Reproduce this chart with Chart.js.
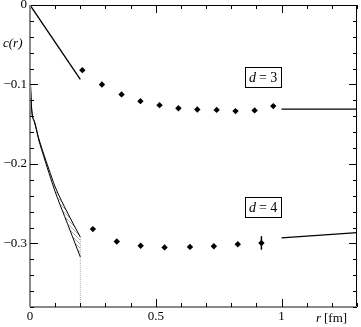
<!DOCTYPE html>
<html>
<head>
<meta charset="utf-8">
<script src="https://cdn.jsdelivr.net/npm/chart.js@4/dist/chart.umd.min.js"></script>
<style>
    html, body { margin: 0; padding: 0; background: #fff; }
    #wrap { width: 361px; height: 327px; position: relative; }
</style>
</head>
<body>
<div id="wrap"><canvas id="myChart"></canvas></div>
<script>
// lattice data, d = 3
const rD3 = [0.208, 0.286, 0.364, 0.439, 0.515, 0.590, 0.665, 0.742, 0.817, 0.893, 0.967];
const cD3 = [-0.082, -0.100, -0.1125, -0.121, -0.126, -0.130, -0.1314, -0.132, -0.1335, -0.1326, -0.1272];
// lattice data, d = 4
const rD4 = [0.250, 0.345, 0.440, 0.535, 0.636, 0.731, 0.826, 0.920];
const cD4 = [-0.282, -0.2976, -0.303, -0.305, -0.3044, -0.3035, -0.301, -0.2994];
const errD4 = [0, 0, 0, 0, 0, 0, 0, 0.0085];

// short distance lines / band
const rShort3 = [0, 0.2];
const cShort3 = [0, -0.0935];
const rLong3 = [1, 1.3];
const cLong3 = [-0.131, -0.131];
const rLong4 = [1, 1.3];
const cLong4 = [-0.293, -0.2863];
const rBand = [0, 0.002, 0.016, 0.035, 0.055, 0.075, 0.099, 0.150, 0.200];
const cBandUp = [0, -0.100, -0.145, -0.168, -0.188, -0.2065, -0.228, -0.262, -0.292];
const cBandLo = [0, -0.100, -0.146, -0.170, -0.191, -0.211, -0.234, -0.276, -0.317];

const xTicks = [0, 0.5, 1];
const xTickLabels = ['0', '0.5', '1'];
const yTicks = [0, -0.1, -0.2, -0.3];
const yTickLabels = ['0', '\u22120.1', '\u22120.2', '\u22120.3'];

const pts = (xs, ys) => xs.map((x, i) => ({x: x, y: ys[i]}));

const hatch = () => {
    const c = document.createElement('canvas');
    c.width = 4; c.height = 4;
    const g = c.getContext('2d');
    g.strokeStyle = '#777';
    g.lineWidth = 0.6;
    g.beginPath();
    g.moveTo(0, 0); g.lineTo(4, 4);
    g.moveTo(-1, 3); g.lineTo(1, 5);
    g.moveTo(3, -1); g.lineTo(5, 1);
    g.stroke();
    return g.createPattern(c, 'repeat');
};

const serif = '"Liberation Serif", "DejaVu Serif", serif';

const decor = {
    id: 'decor',
    afterDraw(chart) {
        const ctx = chart.ctx;
        const a = chart.chartArea;
        const xs = chart.scales.x, ys = chart.scales.y;
        ctx.save();
        // frame
        ctx.strokeStyle = '#000';
        ctx.lineWidth = 1;
        ctx.beginPath();
        ctx.moveTo(a.left, a.top + 0.5); ctx.lineTo(a.right, a.top + 0.5);
        ctx.moveTo(a.right - 0.5, a.top); ctx.lineTo(a.right - 0.5, a.bottom);
        ctx.stroke();
        ctx.strokeStyle = '#888';
        ctx.lineWidth = 2;
        ctx.beginPath();
        ctx.moveTo(a.left, a.top); ctx.lineTo(a.left, a.bottom);
        ctx.moveTo(a.left, a.bottom); ctx.lineTo(a.right, a.bottom);
        ctx.stroke();
        // ticks
        ctx.strokeStyle = '#000';
        ctx.lineWidth = 1;
        ctx.beginPath();
        for (let k = 1; k <= 13; k++) {
            const px = Math.round(xs.getPixelForValue(k / 10)) + 0.5;
            const len = (k % 5 === 0) ? 8 : 4;
            ctx.moveTo(px, a.bottom); ctx.lineTo(px, a.bottom - len);
            ctx.moveTo(px, a.top); ctx.lineTo(px, a.top + len);
        }
        for (let k = 1; k <= 19; k++) {
            const py = Math.round(ys.getPixelForValue(-k / 50)) + 0.5;
            const len = (k % 5 === 0) ? 8 : 4;
            ctx.moveTo(a.left, py); ctx.lineTo(a.left + len, py);
            ctx.moveTo(a.right, py); ctx.lineTo(a.right - len, py);
        }
        ctx.stroke();
        // tick labels
        ctx.fillStyle = '#000';
        ctx.font = '13px ' + serif;
        ctx.textAlign = 'center';
        ctx.textBaseline = 'top';
        xTicks.forEach((v, i) => ctx.fillText(xTickLabels[i], xs.getPixelForValue(v), a.bottom + 3));
        ctx.textAlign = 'right';
        ctx.textBaseline = 'middle';
        yTicks.forEach((v, i) => ctx.fillText(yTickLabels[i], a.left - 3, ys.getPixelForValue(v)));
        // axis titles
        ctx.font = 'italic 13px ' + serif;
        ctx.textAlign = 'left';
        ctx.fillText('c(r)', 3, 44);
        ctx.textBaseline = 'top';
        ctx.fillText('r', 316, a.bottom + 5);
        ctx.font = '13px ' + serif;
        ctx.fillText('[fm]', 324, a.bottom + 5);
        // d labels
        const box = (x, y, n) => {
            const cx = xs.getPixelForValue(x), cy = ys.getPixelForValue(y);
            ctx.fillStyle = '#fff';
            ctx.fillRect(cx - 18, cy - 10, 36, 20);
            ctx.strokeStyle = '#000';
            ctx.lineWidth = 1;
            ctx.strokeRect(Math.round(cx - 18) + 0.5, Math.round(cy - 10) + 0.5, 36, 20);
            ctx.fillStyle = '#000';
            ctx.textBaseline = 'middle';
            ctx.textAlign = 'left';
            ctx.font = 'italic 14px ' + serif;
            ctx.fillText('d', cx - 14, cy + 1);
            ctx.font = '14px ' + serif;
            ctx.fillText('= ' + n, cx - 4, cy + 1);
        };
        box(0.926, -0.0907, 3);
        box(0.926, -0.254, 4);
        ctx.restore();
    }
};

const line = (data, extra) => Object.assign({
    type: 'line', data: data, borderColor: '#000', borderWidth: 1.3,
    pointRadius: 0, fill: false, tension: 0
}, extra || {});

const errBars = rD4.filter((r, i) => errD4[i] > 0).map(r => {
    const i = rD4.indexOf(r);
    return line([{x: r, y: cD4[i] - errD4[i]}, {x: r, y: cD4[i] + errD4[i]}], {borderWidth: 1.5});
});

new Chart(document.getElementById('myChart'), {
    type: 'scatter',
    data: {
        datasets: [
            line(pts(rBand, cBandUp), {fill: '+1', backgroundColor: hatch(), borderWidth: 1, cubicInterpolationMode: 'monotone'}),
            line(pts(rBand, cBandLo), {borderWidth: 1, cubicInterpolationMode: 'monotone'}),
            line([{x: 0.2, y: cBandUp[cBandUp.length - 1]}, {x: 0.2, y: -0.38}], {borderColor: '#aaa', borderWidth: 1, borderDash: [1, 1]}),
            line(pts(rShort3, cShort3)),
            line(pts(rLong3, cLong3)),
            line(pts(rLong4, cLong4)),
            ...errBars,
            {data: pts(rD3, cD3), pointStyle: 'rectRot', pointRadius: 3.2, backgroundColor: '#000', borderColor: '#000', borderWidth: 0},
            {data: pts(rD4, cD4), pointStyle: 'rectRot', pointRadius: 3.2, backgroundColor: '#000', borderColor: '#000', borderWidth: 0}
        ]
    },
    options: {
        responsive: true,
        maintainAspectRatio: false,
        animation: false,
        layout: {padding: {left: 30, right: 1, top: 5, bottom: 20}},
        plugins: {legend: {display: false}, tooltip: {enabled: false}},
        scales: {
            x: {type: 'linear', display: false, min: 0, max: 1.3},
            y: {type: 'linear', display: false, min: -0.38, max: 0}
        }
    },
    plugins: [decor]
});
</script>
</body>
</html>
